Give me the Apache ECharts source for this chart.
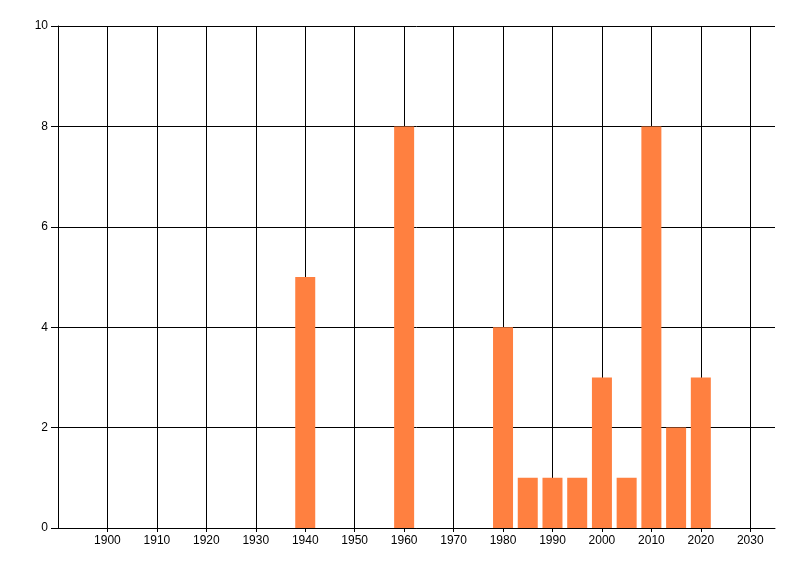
<!DOCTYPE html>
<html>
<head>
<meta charset="utf-8">
<script src="https://cdn.jsdelivr.net/npm/echarts@6/dist/echarts.min.js"></script>
<style>html,body{margin:0;padding:0;background:#fff}#c{width:800px;height:576px}</style>
</head>
<body>
<div id="c"></div>
<script>
const years = [1940, 1960, 1980, 1985, 1990, 1995, 2000, 2005, 2010, 2015, 2020];
const counts = [5, 8, 4, 1, 1, 1, 3, 1, 8, 2, 3];
const xTicks = [1900, 1910, 1920, 1930, 1940, 1950, 1960, 1970, 1980, 1990, 2000, 2010, 2020, 2030];
const yTicks = [0, 2, 4, 6, 8, 10];

const gridColors = [];
for (let i = 0; i < 15; i++) gridColors.push('#000');
gridColors.push('transparent');

const chart = echarts.init(document.getElementById('c'), null, {renderer: 'canvas'});
chart.setOption({
  animation: false,
  backgroundColor: '#fff',
  grid: {left: 58, right: 25, top: 26, bottom: 48, containLabel: false},
  xAxis: {
    type: 'value',
    min: 1890, max: 2035, interval: 10,
    axisLine: {show: true, lineStyle: {color: '#000', width: 1}},
    axisTick: {show: true, length: 4, lineStyle: {color: '#000'}, customValues: xTicks},
    axisLabel: {color: '#000', fontSize: 12, fontFamily: 'Liberation Sans', margin: 7,
      customValues: xTicks, formatter: v => String(v)},
    splitLine: {show: true, lineStyle: {color: gridColors, width: 1}}
  },
  yAxis: {
    type: 'value',
    min: yTicks[0], max: yTicks[yTicks.length - 1], interval: 2,
    axisLine: {show: true, lineStyle: {color: '#000', width: 1}},
    axisTick: {show: true, length: 7, lineStyle: {color: '#000'}},
    axisLabel: {color: '#000', fontSize: 12, fontFamily: 'Liberation Sans', margin: 10},
    splitLine: {show: true, lineStyle: {color: '#000', width: 1}}
  },
  series: [{
    type: 'bar',
    data: years.map((y, i) => [y, counts[i]]),
    barWidth: 20,
    itemStyle: {color: '#FF8040'},
    z: 5
  }]
});
</script>
</body>
</html>
